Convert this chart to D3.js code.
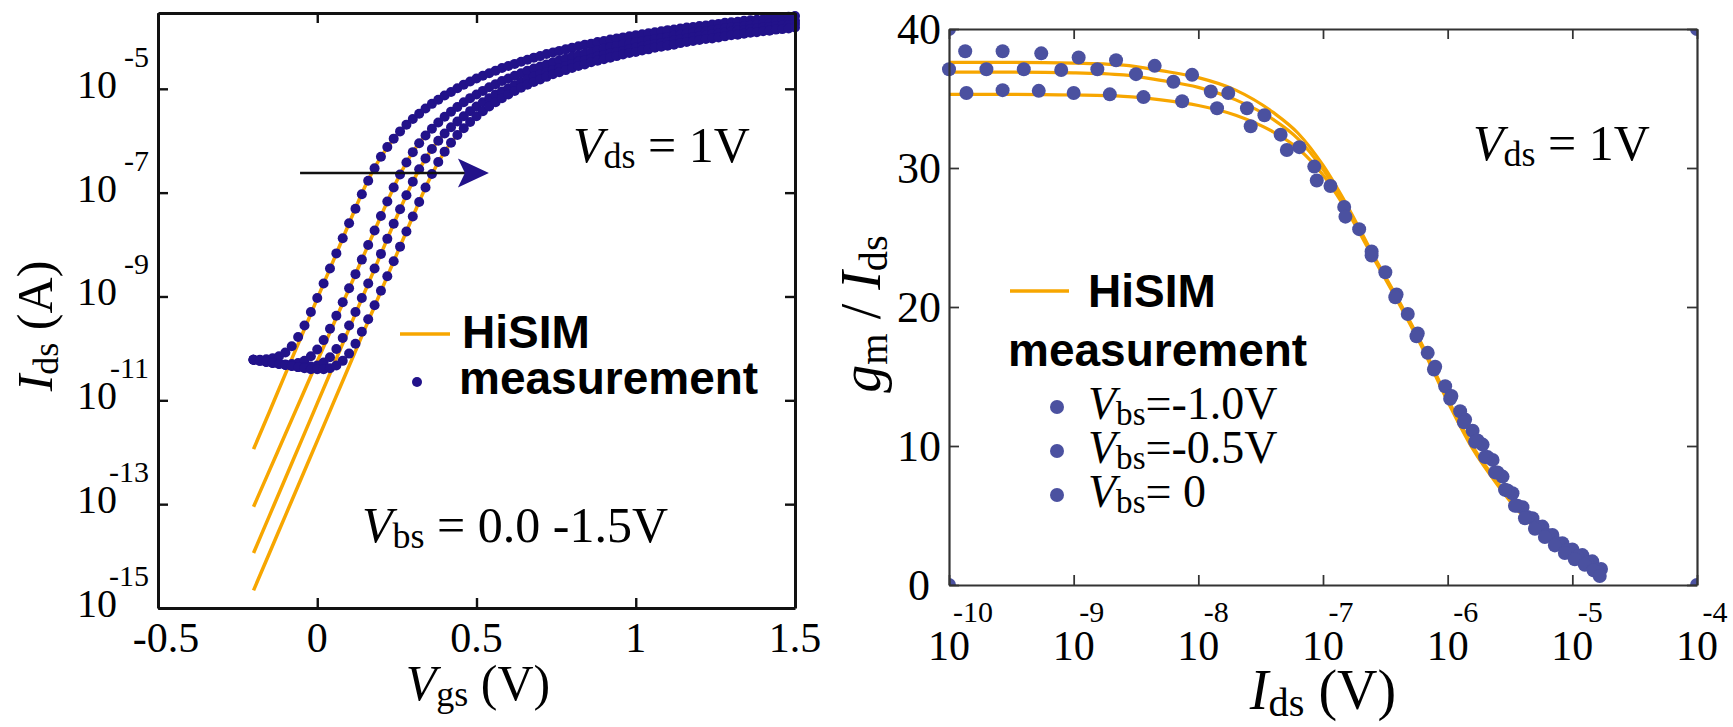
<!DOCTYPE html>
<html>
<head>
<meta charset="utf-8">
<script src="https://cdn.jsdelivr.net/npm/d3@7"></script>
<style>
  body { margin: 0; background: #fff; }
  svg { display: block; }
</style>
</head>
<body>
<svg id="chart" width="1733" height="727"></svg>
<script>
// ---------- left panel: Ids-Vgs, values are log10(Ids) ----------
const vgs = [-0.20,-0.18,-0.16,-0.14,-0.12,-0.10,-0.08,-0.06,-0.04,-0.02,
  0.00,0.02,0.04,0.06,0.08,0.10,0.12,0.14,0.16,0.18,
  0.20,0.22,0.24,0.26,0.28,0.30,0.32,0.34,0.36,0.38,
  0.40,0.42,0.44,0.46,0.48,0.50,0.52,0.54,0.56,0.58,
  0.60,0.62,0.64,0.66,0.68,0.70,0.72,0.74,0.76,0.78,
  0.80,0.82,0.84,0.86,0.88,0.90,0.92,0.94,0.96,0.98,
  1.00,1.02,1.04,1.06,1.08,1.10,1.12,1.14,1.16,1.18,
  1.20,1.22,1.24,1.26,1.28,1.30,1.32,1.34,1.36,1.38,
  1.40,1.42,1.44,1.46,1.48,1.50];

const measVbs0 = [-10.22,-10.22,-10.21,-10.19,-10.15,-10.08,-9.96,-9.78,-9.56,-9.30,
  -9.03,-8.75,-8.46,-8.17,-7.88,-7.59,-7.31,-7.03,-6.77,-6.53,
  -6.31,-6.12,-5.96,-5.82,-5.69,-5.58,-5.48,-5.38,-5.29,-5.21,
  -5.13,-5.06,-4.99,-4.92,-4.86,-4.80,-4.75,-4.70,-4.65,-4.60,
  -4.56,-4.52,-4.48,-4.44,-4.40,-4.37,-4.33,-4.30,-4.27,-4.24,
  -4.21,-4.18,-4.15,-4.13,-4.10,-4.08,-4.05,-4.03,-4.01,-3.99,
  -3.97,-3.95,-3.93,-3.91,-3.89,-3.87,-3.86,-3.84,-3.82,-3.81,
  -3.79,-3.78,-3.76,-3.75,-3.73,-3.72,-3.71,-3.69,-3.68,-3.67,
  -3.66,-3.64,-3.63,-3.62,-3.61,-3.60];
const measVbs05 = [-10.22,-10.23,-10.25,-10.27,-10.29,-10.31,-10.30,-10.28,-10.24,-10.15,
  -10.02,-9.84,-9.62,-9.37,-9.11,-8.84,-8.57,-8.29,-8.01,-7.73,
  -7.45,-7.17,-6.90,-6.65,-6.42,-6.22,-6.05,-5.90,-5.77,-5.65,
  -5.54,-5.44,-5.35,-5.26,-5.18,-5.11,-5.04,-4.97,-4.91,-4.85,
  -4.80,-4.75,-4.70,-4.65,-4.61,-4.57,-4.53,-4.49,-4.45,-4.42,
  -4.38,-4.35,-4.32,-4.29,-4.26,-4.23,-4.20,-4.18,-4.15,-4.13,
  -4.10,-4.08,-4.06,-4.04,-4.02,-4.00,-3.98,-3.96,-3.94,-3.92,
  -3.90,-3.89,-3.87,-3.85,-3.84,-3.82,-3.81,-3.79,-3.78,-3.76,
  -3.75,-3.74,-3.72,-3.71,-3.70,-3.69];
const measVbs10 = [-10.22,-10.24,-10.26,-10.28,-10.30,-10.32,-10.34,-10.36,-10.36,-10.35,
  -10.33,-10.27,-10.17,-10.01,-9.80,-9.56,-9.30,-9.03,-8.75,-8.46,
  -8.18,-7.89,-7.60,-7.32,-7.05,-6.79,-6.55,-6.34,-6.16,-6.00,
  -5.86,-5.74,-5.63,-5.53,-5.43,-5.34,-5.26,-5.18,-5.11,-5.05,
  -4.99,-4.93,-4.87,-4.82,-4.77,-4.72,-4.68,-4.64,-4.60,-4.56,
  -4.52,-4.48,-4.45,-4.42,-4.38,-4.35,-4.32,-4.29,-4.27,-4.24,
  -4.21,-4.19,-4.16,-4.14,-4.12,-4.10,-4.07,-4.05,-4.03,-4.01,
  -3.99,-3.97,-3.95,-3.94,-3.92,-3.90,-3.88,-3.87,-3.85,-3.84,
  -3.82,-3.81,-3.79,-3.78,-3.77,-3.75];
const measVbs15 = [-10.22,-10.24,-10.26,-10.28,-10.30,-10.32,-10.34,-10.36,-10.38,-10.40,
  -10.40,-10.40,-10.38,-10.33,-10.24,-10.10,-9.91,-9.68,-9.44,-9.17,
  -8.89,-8.61,-8.32,-8.04,-7.75,-7.46,-7.18,-6.90,-6.64,-6.41,
  -6.21,-6.04,-5.89,-5.76,-5.64,-5.53,-5.43,-5.34,-5.26,-5.18,
  -5.11,-5.04,-4.98,-4.92,-4.87,-4.82,-4.77,-4.72,-4.68,-4.64,
  -4.60,-4.56,-4.53,-4.49,-4.46,-4.43,-4.40,-4.37,-4.34,-4.31,
  -4.29,-4.26,-4.24,-4.21,-4.19,-4.17,-4.15,-4.12,-4.10,-4.08,
  -4.06,-4.04,-4.03,-4.01,-3.99,-3.97,-3.96,-3.94,-3.92,-3.91,
  -3.89,-3.88,-3.86,-3.85,-3.84,-3.82];

const hisimVgs = [-0.2,-0.15,-0.1,-0.05,0,0.05,0.1,0.15,0.2,0.25,0.3,0.35,0.4,0.5,0.6,0.7,0.8,0.9,1.0,1.1,1.2,1.3,1.4,1.5];
const hisimVbs0  = [-11.94,-11.22,-10.49,-9.77,-9.04,-8.32,-7.59,-6.88,-6.31,-5.89,-5.58,-5.34,-5.13,-4.80,-4.56,-4.37,-4.21,-4.08,-3.97,-3.87,-3.79,-3.72,-3.66,-3.60];
const hisimVbs05 = [-13.05,-12.35,-11.65,-10.95,-10.25,-9.55,-8.85,-8.15,-7.45,-6.77,-6.22,-5.83,-5.54,-5.11,-4.80,-4.57,-4.38,-4.23,-4.10,-4.00,-3.90,-3.82,-3.75,-3.69];
const hisimVbs10 = [-13.94,-13.22,-12.50,-11.78,-11.06,-10.34,-9.62,-8.90,-8.18,-7.46,-6.79,-6.25,-5.86,-5.34,-4.99,-4.72,-4.52,-4.35,-4.21,-4.10,-3.99,-3.90,-3.82,-3.75];
const hisimVbs15 = [-14.66,-13.94,-13.22,-12.50,-11.78,-11.06,-10.34,-9.62,-8.90,-8.18,-7.46,-6.77,-6.21,-5.53,-5.11,-4.82,-4.60,-4.43,-4.29,-4.17,-4.06,-3.97,-3.89,-3.82];

const vgsTicks = [-0.5, 0, 0.5, 1, 1.5];
const idsExpTicks = [-5, -7, -9, -11, -13, -15];
const arrowFrom = [-0.054, -6.62], arrowTo = [0.539, -6.62];

// ---------- right panel: [log10(Ids), gm/Ids] ----------
const gmMeasA = [[-9.87,38.4],[-9.57,38.4],[-9.26,38.25],[-8.96,37.95],[-8.66,37.75],[-8.35,37.35],[-8.05,36.7],
  [-7.76,35.4],[-7.47,33.8],[-7.19,31.5],[-6.94,28.7],[-6.71,25.6],[-6.50,22.5],[-6.32,19.5],[-6.16,16.7],
  [-6.02,14.3],[-5.90,12.5],[-5.80,11.1],[-5.72,10.1],[-5.64,9.0],[-5.56,7.8],[-5.48,6.6],[-5.40,5.6],
  [-5.32,4.8],[-5.24,4.2],[-5.16,3.6],[-5.08,3.0],[-5.00,2.55],[-4.92,2.15],[-4.84,1.7],[-4.77,1.15]];
const gmMeasB = [[-10.0,37.1],[-9.70,37.1],[-9.40,37.1],[-9.10,37.05],[-8.81,37.1],[-8.50,36.75],[-8.20,36.2],
  [-7.90,35.5],[-7.61,34.3],[-7.34,32.4],[-7.07,30.1],[-6.83,27.2],[-6.61,24.0],[-6.41,20.9],[-6.24,18.1],
  [-6.10,15.7],[-5.97,13.6],[-5.86,11.9],[-5.76,10.4],[-5.68,9.2],[-5.60,8.1],[-5.52,6.8],[-5.44,5.7],
  [-5.36,4.9],[-5.28,4.2],[-5.20,3.6],[-5.12,3.0],[-5.04,2.5],[-4.96,2.05],[-4.88,1.6],[-4.80,1.1]];
const gmMeasC = [[-9.86,35.4],[-9.57,35.6],[-9.28,35.55],[-9.0,35.4],[-8.71,35.3],[-8.44,35.1],[-8.13,34.8],
  [-7.85,34.3],[-7.58,33.0],[-7.29,31.3],[-7.05,29.1],[-6.82,26.5],[-6.61,23.7],[-6.42,20.7],[-6.25,17.9],
  [-6.11,15.5],[-5.98,13.4],[-5.87,11.7],[-5.78,10.3],[-5.70,9.2],[-5.62,8.1],[-5.54,6.85],[-5.46,5.7],
  [-5.38,4.8],[-5.30,4.05],[-5.22,3.45],[-5.14,2.85],[-5.06,2.3],[-4.98,1.85],[-4.90,1.45],[-4.83,1.05],[-4.78,0.65]];

const gmHisimA = [[-10,37.6],[-9.5,37.6],[-9,37.55],[-8.6,37.4],[-8.3,37.0],[-8.0,36.5],[-7.7,35.6],[-7.4,34.0],[-7.2,32.5],
  [-7.0,30.2],[-6.8,27.2],[-6.6,23.8],[-6.4,20.6],[-6.2,17.2],[-6.0,13.4],[-5.8,10.0],[-5.6,7.4],[-5.4,5.2],[-5.2,3.5],[-5.0,2.2],[-4.8,1.2]];
const gmHisimB = [[-10,36.9],[-9.5,36.9],[-9,36.85],[-8.6,36.7],[-8.3,36.3],[-8.0,35.8],[-7.7,34.9],[-7.4,33.5],[-7.2,32.1],
  [-7.0,29.9],[-6.8,27.0],[-6.6,23.7],[-6.4,20.5],[-6.2,17.1],[-6.0,13.3],[-5.8,9.9],[-5.6,7.3],[-5.4,5.1],[-5.2,3.4],[-5.0,2.1],[-4.8,1.1]];
const gmHisimC = [[-10,35.3],[-9.5,35.3],[-9,35.25],[-8.6,35.15],[-8.3,34.9],[-8.0,34.5],[-7.7,33.8],[-7.4,32.6],[-7.2,31.4],
  [-7.0,29.5],[-6.8,26.8],[-6.6,23.6],[-6.4,20.4],[-6.2,17.0],[-6.0,13.2],[-5.8,9.8],[-5.6,7.2],[-5.4,5.0],[-5.2,3.3],[-5.0,2.0],[-4.8,1.0]];

const gmTicks = [0, 10, 20, 30, 40];
const idsRExpTicks = [-10, -9, -8, -7, -6, -5, -4];
const cornerMarks = [[-10, 0], [-4, 0], [-10, 40], [-4, 40]];

const legendVbs = ['=-1.0V', '=-0.5V', '= 0'];

// ---------- drawing ----------
const serif = '"Liberation Serif","Times New Roman",serif';
const sans = '"Liberation Sans",Arial,sans-serif';
const navy = '#22128a', slate = '#4b51a0', orange = '#f7a600';

const svg = d3.select('#chart');

// text with italic / subscript pieces
function rich(sel, parts, size) {
    let down = 0;
    parts.forEach(p => {
        const ts = sel.append('tspan').text(p.t);
        if (p.it) ts.attr('font-style', 'italic');
        if (p.sub) {
            ts.attr('font-size', size * 0.72).attr('dy', size * 0.12 - down);
            down = size * 0.12;
        } else if (down) {
            ts.attr('dy', -down);
            down = 0;
        }
    });
    return sel;
}

function frameAxes(g, x, y, xt, yt, y0, y1, x0, x1, width, color) {
    const axes = [
        g.append('g').attr('transform', `translate(0,${y0})`).call(d3.axisBottom(x).tickValues(xt).tickSize(-10).tickSizeOuter(0).tickFormat('')),
        g.append('g').attr('transform', `translate(0,${y1})`).call(d3.axisTop(x).tickValues(xt).tickSize(-10).tickSizeOuter(0).tickFormat('')),
        g.append('g').attr('transform', `translate(${x0},0)`).call(d3.axisLeft(y).tickValues(yt).tickSize(-10).tickSizeOuter(0).tickFormat('')),
        g.append('g').attr('transform', `translate(${x1},0)`).call(d3.axisRight(y).tickValues(yt).tickSize(-10).tickSizeOuter(0).tickFormat(''))
    ];
    axes.forEach(a => {
        a.select('.domain').attr('stroke', color).attr('stroke-width', width);
        a.selectAll('.tick line').attr('stroke', color).attr('stroke-width', width * 0.8);
    });
}

// ===== LEFT PANEL =====
const xL = d3.scaleLinear().domain([-0.5, 1.5]).range([158, 795]);
const yL = d3.scaleLog().domain([1e-15, Math.pow(10, -3.54)]).range([608, 13]);
const left = svg.append('g');

// HiSIM lines
const hisimLeft = [hisimVbs0, hisimVbs05, hisimVbs10, hisimVbs15];
const lineL = d3.line().x(d => xL(d[0])).y(d => yL(Math.pow(10, d[1]))).curve(d3.curveMonotoneX);
hisimLeft.forEach(arr => {
    left.append('path')
        .datum(hisimVgs.map((v, i) => [v, arr[i]]))
        .attr('d', lineL)
        .attr('fill', 'none')
        .attr('stroke', orange)
        .attr('stroke-width', 3.5);
});

// measured dots
const measLeft = [measVbs0, measVbs05, measVbs10, measVbs15];
measLeft.forEach(arr => {
    left.append('g').selectAll('circle')
        .data(vgs.map((v, i) => [v, arr[i]]))
        .join('circle')
        .attr('cx', d => xL(d[0]))
        .attr('cy', d => yL(Math.pow(10, d[1])))
        .attr('r', 5)
        .attr('fill', navy);
});

frameAxes(left, xL, yL, vgsTicks, idsExpTicks.map(e => Math.pow(10, e)), 608, 13, 158, 795, 3, '#111');

// tick labels
left.selectAll('.xl').data(vgsTicks).join('text')
    .attr('x', d => xL(d) + (d < 0 ? 8 : 0)).attr('y', 652)
    .attr('text-anchor', 'middle')
    .attr('font-family', serif).attr('font-size', 42)
    .text(d => d);
idsExpTicks.forEach(e => {
    const yy = yL(Math.pow(10, e));
    left.append('text').attr('x', 117).attr('y', yy + 9)
        .attr('text-anchor', 'end').attr('font-family', serif).attr('font-size', 40).text('10');
    left.append('text').attr('x', 149).attr('y', yy - 22)
        .attr('text-anchor', 'end').attr('font-family', serif).attr('font-size', 30).text(e);
});

// axis titles
rich(left.append('text').attr('x', 478).attr('y', 700).attr('text-anchor', 'middle')
    .attr('font-family', serif).attr('font-size', 50),
    [{t: 'V', it: true}, {t: 'gs', sub: true}, {t: ' (V)'}], 50);
rich(left.append('text').attr('transform', 'translate(52,326) rotate(-90)').attr('text-anchor', 'middle')
    .attr('font-family', serif).attr('font-size', 50),
    [{t: 'I', it: true}, {t: 'ds', sub: true}, {t: ' (A)'}], 50);

// annotations
rich(left.append('text').attr('x', 573).attr('y', 162).attr('font-family', serif).attr('font-size', 50),
    [{t: 'V', it: true}, {t: 'ds', sub: true}, {t: ' = 1V'}], 50);
rich(left.append('text').attr('x', 362).attr('y', 542).attr('font-family', serif).attr('font-size', 50),
    [{t: 'V', it: true}, {t: 'bs', sub: true}, {t: ' = 0.0 -1.5V'}], 50);

// arrow
const ax0 = xL(arrowFrom[0]), ax1 = xL(arrowTo[0]), ay = yL(Math.pow(10, arrowTo[1]));
left.append('line').attr('x1', ax0).attr('x2', ax1 - 24).attr('y1', ay).attr('y2', ay)
    .attr('stroke', '#111').attr('stroke-width', 2.5);
left.append('path')
    .attr('d', `M${ax1},${ay} L${ax1 - 31},${ay - 14.5} L${ax1 - 24},${ay} L${ax1 - 31},${ay + 14.5} Z`)
    .attr('fill', navy);

// legend
left.append('line').attr('x1', 400).attr('x2', 450).attr('y1', 334).attr('y2', 334)
    .attr('stroke', orange).attr('stroke-width', 3.5);
left.append('text').attr('x', 462).attr('y', 348).attr('font-family', sans).attr('font-weight', 'bold')
    .attr('font-size', 46).text('HiSIM');
left.append('circle').attr('cx', 417).attr('cy', 382).attr('r', 5).attr('fill', navy);
left.append('text').attr('x', 459).attr('y', 394).attr('font-family', sans).attr('font-weight', 'bold')
    .attr('font-size', 46).text('measurement');

// ===== RIGHT PANEL =====
const xR = d3.scaleLog().domain([1e-10, 1e-4]).range([949, 1697]);
const yR = d3.scaleLinear().domain([0, 40]).range([585, 29]);
const right = svg.append('g');

right.append('clipPath').attr('id', 'clipR').append('rect')
    .attr('x', 949).attr('y', 29).attr('width', 1697 - 949).attr('height', 585 - 29);

const lineR = d3.line().x(d => xR(Math.pow(10, d[0]))).y(d => yR(d[1])).curve(d3.curveMonotoneX);
[gmHisimA, gmHisimB, gmHisimC].forEach(arr => {
    right.append('path').datum(arr).attr('d', lineR)
        .attr('fill', 'none').attr('stroke', orange).attr('stroke-width', 3.2);
});

[gmMeasA, gmMeasB, gmMeasC].forEach(arr => {
    right.append('g').selectAll('circle').data(arr).join('circle')
        .attr('cx', d => xR(Math.pow(10, d[0])))
        .attr('cy', d => yR(d[1]))
        .attr('r', 7)
        .attr('fill', slate);
});

right.append('g').attr('clip-path', 'url(#clipR)').selectAll('circle').data(cornerMarks).join('circle')
    .attr('cx', d => xR(Math.pow(10, d[0]))).attr('cy', d => yR(d[1])).attr('r', 7).attr('fill', slate);

frameAxes(right, xR, yR, idsRExpTicks.map(e => Math.pow(10, e)), gmTicks, 585, 29, 949, 1697, 2.2, '#333');

right.selectAll('.yr').data(gmTicks).join('text')
    .attr('x', 919).attr('y', d => yR(d)).attr('dy', '0.35em')
    .attr('text-anchor', 'middle').attr('font-family', serif).attr('font-size', 44)
    .text(d => d);
idsRExpTicks.forEach(e => {
    const xx = xR(Math.pow(10, e));
    right.append('text').attr('x', xx).attr('y', 660)
        .attr('text-anchor', 'middle').attr('font-family', serif).attr('font-size', 42).text('10');
    right.append('text').attr('x', xx + (e < -9 ? 24 : 18)).attr('y', 622)
        .attr('text-anchor', 'middle').attr('font-family', serif).attr('font-size', 30).text(e);
});

rich(right.append('text').attr('x', 1323).attr('y', 709).attr('text-anchor', 'middle')
    .attr('font-family', serif).attr('font-size', 56),
    [{t: 'I', it: true}, {t: 'ds', sub: true}, {t: ' (V)'}], 56);
rich(right.append('text').attr('transform', 'translate(880,314) rotate(-90)').attr('text-anchor', 'middle')
    .attr('font-family', serif).attr('font-size', 56),
    [{t: 'g', it: true}, {t: 'm', sub: true}, {t: ' / '}, {t: 'I', it: true}, {t: 'ds', sub: true}], 56);

rich(right.append('text').attr('x', 1473).attr('y', 160).attr('font-family', serif).attr('font-size', 50),
    [{t: 'V', it: true}, {t: 'ds', sub: true}, {t: ' = 1V'}], 50);

// legend
right.append('line').attr('x1', 1010).attr('x2', 1069).attr('y1', 291).attr('y2', 291)
    .attr('stroke', orange).attr('stroke-width', 3.5);
right.append('text').attr('x', 1088).attr('y', 307).attr('font-family', sans).attr('font-weight', 'bold')
    .attr('font-size', 46).text('HiSIM');
right.append('text').attr('x', 1008).attr('y', 366).attr('font-family', sans).attr('font-weight', 'bold')
    .attr('font-size', 46).text('measurement');
legendVbs.forEach((lab, i) => {
    const yy = 419 + i * 44;
    right.append('circle').attr('cx', 1057).attr('cy', yy - 12).attr('r', 7).attr('fill', slate);
    rich(right.append('text').attr('x', 1088).attr('y', yy).attr('font-family', serif).attr('font-size', 46),
        [{t: 'V', it: true}, {t: 'bs', sub: true}, {t: lab}], 46);
});
</script>
</body>
</html>
